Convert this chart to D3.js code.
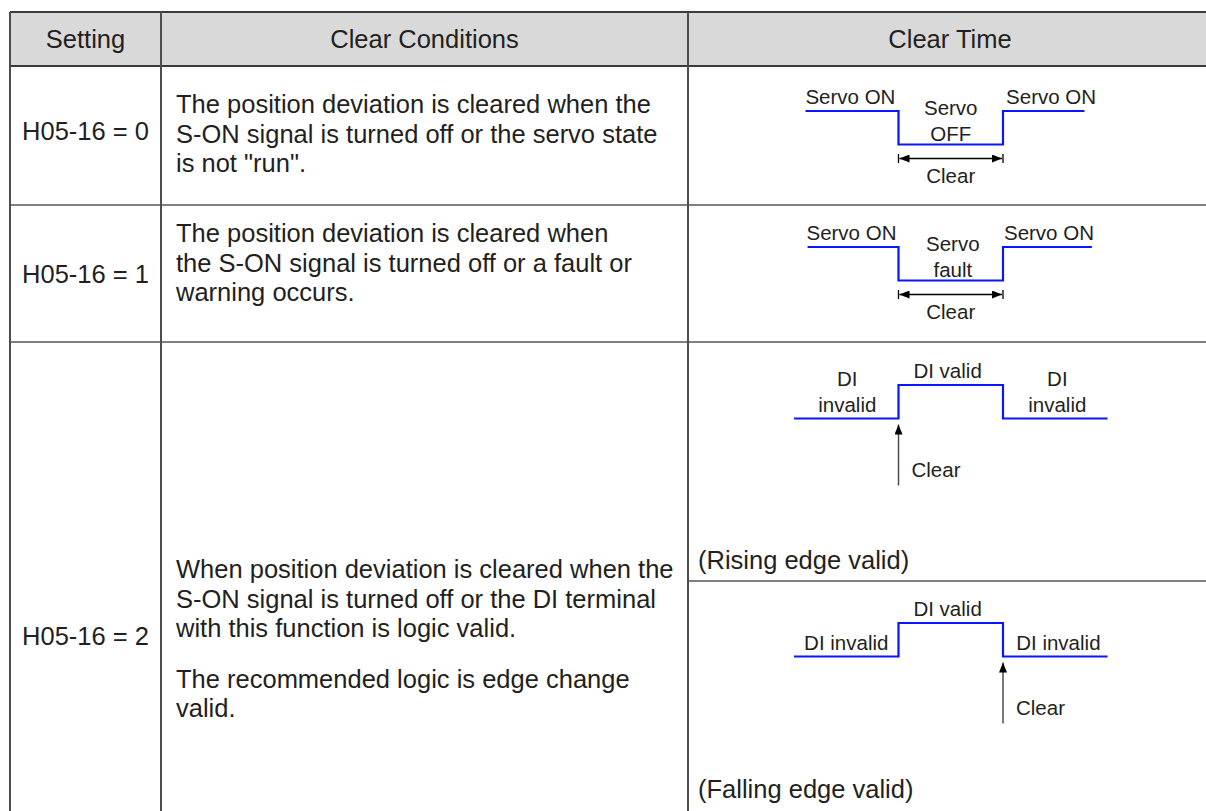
<!DOCTYPE html>
<html>
<head>
<meta charset="utf-8">
<script src="https://cdn.jsdelivr.net/npm/d3@7/dist/d3.min.js"></script>
<style>
  html, body { margin: 0; padding: 0; background: #ffffff; }
  svg { display: block; }
  text { font-family: "Liberation Sans", Arial, Helvetica, sans-serif; fill: #231f20; }
</style>
</head>
<body>
<svg id="chart" width="1206" height="811"></svg>
<script>
// ---------------- data ----------------
const headers = ["Setting", "Clear Conditions", "Clear Time"];
const settings = ["H05-16 = 0", "H05-16 = 1", "H05-16 = 2"];
const conditionParagraphs = [
  [["The position deviation is cleared when the", "S-ON signal is turned off or the servo state", "is not \"run\"."]],
  [["The position deviation is cleared when", "the S-ON signal is turned off or a fault or", "warning occurs."]],
  [["When position deviation is cleared when the", "S-ON signal is turned off or the DI terminal", "with this function is logic valid."],
   ["The recommended logic is edge change", "valid."]]
];
// timing diagrams (time units; edges at t = 10 and t = 20)
const diagramEdges = [[1.1, 10, 20, 27.8], [1.3, 10, 20, 28.5], [0, 10, 20, 30], [0, 10, 20, 30]];
const diagramLevels = [[1, 0, 1], [1, 0, 1], [0, 1, 0], [0, 1, 0]];
const diagramLabels = [
  [["Servo ON"], ["Servo", "OFF"], ["Servo ON"]],
  [["Servo ON"], ["Servo", "fault"], ["Servo ON"]],
  [["DI", "invalid"], ["DI valid"], ["DI", "invalid"]],
  [["DI invalid"], ["DI valid"], ["DI invalid"]]
];
const diagramLabelT = [[5.4, 15.0, 24.6], [5.5, 15.2, 24.4], [5.1, 14.7, 25.2], [5.0, 14.7, 25.3]];
const clearMarkers = [
  { type: "span", from: 10, to: 20 },
  { type: "span", from: 10, to: 20 },
  { type: "edge", at: 10 },
  { type: "edge", at: 20 }
];
const clearLabel = "Clear";
const diagramCaptions = ["", "", "(Rising edge valid)", "(Falling edge valid)"];

// ---------------- layout ----------------
const W = 1206, H = 811;
const colX = [10, 161, 688, 1212];
const rowY = [12, 66, 205, 342, 1000];
const subRowY = 581;
const mainFont = 25.5, diaFont = 20.5, lineH = 29.5, paraGap = 21;
const textBaselines = [113, 242, 578];
const settingCenterY = [131, 274, 636];
const diagramHighY = [111, 247, 385, 623];
const diagramAmp = 33.5;
const captionBaseline = [0, 0, 569, 798];

const svg = d3.select("#chart");

// header background
svg.append("rect").attr("x", colX[0]).attr("y", rowY[0])
  .attr("width", colX[3] - colX[0]).attr("height", rowY[1] - rowY[0])
  .attr("fill", "#d9d9d9");

// grid lines
const g = svg.append("g").attr("shape-rendering", "crispEdges");
// row separators
g.append("line").attr("x1", colX[0]).attr("x2", W).attr("y1", rowY[0]).attr("y2", rowY[0]).attr("stroke", "#3a3a3a").attr("stroke-width", 1.5);
g.append("line").attr("x1", colX[0]).attr("x2", W).attr("y1", rowY[1]).attr("y2", rowY[1]).attr("stroke", "#3a3a3a").attr("stroke-width", 1.5);
[rowY[2], rowY[3]].forEach(y => {
  g.append("line").attr("x1", colX[0]).attr("x2", W).attr("y1", y).attr("y2", y).attr("stroke", "#7f7f7f").attr("stroke-width", 2);
});
g.append("line").attr("x1", colX[2]).attr("x2", W).attr("y1", subRowY).attr("y2", subRowY).attr("stroke", "#7f7f7f").attr("stroke-width", 2);
// column lines
[colX[0], colX[1], colX[2]].forEach(x => {
  g.append("line").attr("x1", x).attr("x2", x).attr("y1", rowY[0]).attr("y2", H).attr("stroke", "#4d4d4d").attr("stroke-width", 1.5);
});

// header text
headers.forEach((h, i) => {
  svg.append("text").attr("x", (colX[i] + colX[i + 1]) / 2).attr("y", (rowY[0] + rowY[1]) / 2)
    .attr("dy", "0.35em").attr("text-anchor", "middle").attr("font-size", mainFont).text(h);
});

// setting column
settings.forEach((s, i) => {
  svg.append("text").attr("x", (colX[0] + colX[1]) / 2).attr("y", settingCenterY[i])
    .attr("dy", "0.35em").attr("text-anchor", "middle").attr("font-size", mainFont).text(s);
});

// condition column
conditionParagraphs.forEach((paras, i) => {
  let y = textBaselines[i];
  paras.forEach((lines, pi) => {
    if (pi > 0) y += paraGap;
    lines.forEach(line => {
      svg.append("text").attr("x", colX[1] + 15).attr("y", y).attr("font-size", mainFont).text(line);
      y += lineH;
    });
  });
});

// timing diagrams
const x = d3.scaleLinear().domain([0, 30]).range([794, 1107.5]);

// arrow marker
const defs = svg.append("defs");
defs.append("marker").attr("id", "ah").attr("viewBox", "0 0 10 8")
  .attr("refX", 10).attr("refY", 4).attr("markerWidth", 10).attr("markerHeight", 8)
  .attr("markerUnits", "userSpaceOnUse").attr("orient", "auto-start-reverse")
  .append("path").attr("d", "M0,0 L10,4 L0,8 Z").attr("fill", "#000");

diagramEdges.forEach((edges, d) => {
  const levels = diagramLevels[d];
  const yHigh = diagramHighY[d], yLow = yHigh + diagramAmp;
  const y = d3.scaleLinear().domain([0, 1]).range([yLow, yHigh]);
  const pts = edges.map((t, k) => ({ t: t, v: levels[Math.min(k, levels.length - 1)] }));
  const line = d3.line().x(p => x(p.t)).y(p => y(p.v)).curve(d3.curveStepAfter);
  svg.append("path").attr("d", line(pts)).attr("fill", "none")
    .attr("stroke", "#0a14ff").attr("stroke-width", 2.2);

  // labels
  diagramLabels[d].forEach((lines, k) => {
    const segY = y(levels[k]);
    const lastBase = segY - (d < 2 && k === 1 ? 3.5 : 7);
    lines.forEach((ln, li) => {
      svg.append("text").attr("x", x(diagramLabelT[d][k]))
        .attr("y", lastBase - (lines.length - 1 - li) * 26)
        .attr("text-anchor", "middle").attr("font-size", diaFont).text(ln);
    });
  });

  // clear markers
  const m = clearMarkers[d];
  if (m.type === "span") {
    const ay = yLow + 14;
    svg.append("line").attr("x1", x(m.from) + 1).attr("x2", x(m.to) - 1).attr("y1", ay).attr("y2", ay)
      .attr("stroke", "#000").attr("stroke-width", 1.3)
      .attr("marker-start", "url(#ah)").attr("marker-end", "url(#ah)");
    [m.from, m.to].forEach(t => {
      svg.append("line").attr("x1", x(t)).attr("x2", x(t)).attr("y1", ay - 4.5).attr("y2", ay + 4.5)
        .attr("stroke", "#000").attr("stroke-width", 1.3);
    });
    svg.append("text").attr("x", x((m.from + m.to) / 2)).attr("y", yLow + 38)
      .attr("text-anchor", "middle").attr("font-size", diaFont).text(clearLabel);
  } else {
    svg.append("line").attr("x1", x(m.at)).attr("x2", x(m.at)).attr("y1", yLow + 67).attr("y2", yLow + 6)
      .attr("stroke", "#4d4d4d").attr("stroke-width", 1.5).attr("marker-end", "url(#ah)");
    svg.append("text").attr("x", x(m.at) + 13).attr("y", yLow + 58)
      .attr("font-size", diaFont).text(clearLabel);
  }

  if (diagramCaptions[d]) {
    svg.append("text").attr("x", colX[2] + 10).attr("y", captionBaseline[d])
      .attr("font-size", mainFont).text(diagramCaptions[d]);
  }
});
</script>
</body>
</html>
